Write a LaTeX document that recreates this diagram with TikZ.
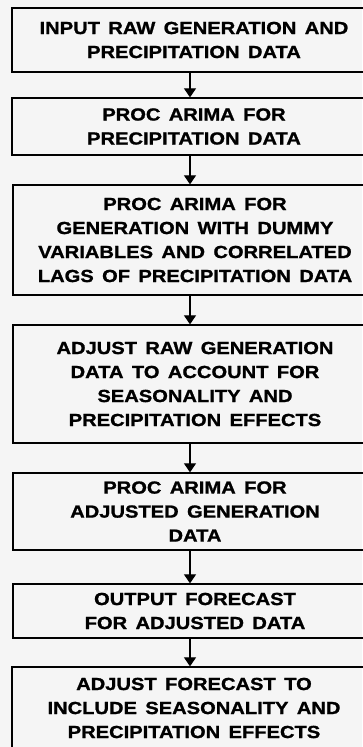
\documentclass[tikz,border=0pt]{standalone}
\usepackage{fontspec}
\newfontfamily\boxfont{Liberation Sans}[FakeStretch=1.15,FakeBold=1.2,WordSpace=1.5]
\usetikzlibrary{arrows.meta}
\begin{document}
\begin{tikzpicture}[x=1pt,y=-1pt,
  stepbox/.style={draw=black,line width=1.3pt,rectangle,inner sep=0pt,
    minimum width=364pt,align=center,
    font=\boxfont\bfseries\fontsize{17.5}{24}\selectfont},
  arr/.style={line width=1.2pt,-{Triangle[width=12pt,length=9pt]}}]
\fill[white!96!black] (0,0) rectangle (362,747);
\useasboundingbox (0,0) rectangle (362,747);
\coordinate (ax) at (190,0);
\node[stepbox,minimum height=64pt] (b1) at (194,40) {INPUT RAW GENERATION AND\\PRECIPITATION DATA};
\node[stepbox,minimum height=57pt] (b2) at (194,126.5) {PROC ARIMA FOR\\PRECIPITATION DATA};
\node[stepbox,minimum height=110pt] (b3) at (195,240) {PROC ARIMA FOR\\GENERATION WITH DUMMY\\VARIABLES AND CORRELATED\\LAGS OF PRECIPITATION DATA};
\node[stepbox,minimum height=118pt] (b4) at (195,384) {ADJUST RAW GENERATION\\DATA TO ACCOUNT FOR\\SEASONALITY AND\\PRECIPITATION EFFECTS};
\node[stepbox,minimum height=77pt] (b5) at (195,511.5) {PROC ARIMA FOR\\ADJUSTED GENERATION\\DATA};
\node[stepbox,minimum height=54pt] (b6) at (195,611) {OUTPUT FORECAST\\FOR ADJUSTED DATA};
\node[stepbox,minimum height=82pt] (b7) at (194,708) {ADJUST FORECAST TO\\INCLUDE SEASONALITY AND\\PRECIPITATION EFFECTS};
\draw[arr] (b1.south -| ax) -- (b2.north -| ax);
\draw[arr] (b2.south -| ax) -- (b3.north -| ax);
\draw[arr] (b3.south -| ax) -- (b4.north -| ax);
\draw[arr] (b4.south -| ax) -- (b5.north -| ax);
\draw[arr] (b5.south -| ax) -- (b6.north -| ax);
\draw[arr] (b6.south -| ax) -- (b7.north -| ax);
\end{tikzpicture}
\end{document}
